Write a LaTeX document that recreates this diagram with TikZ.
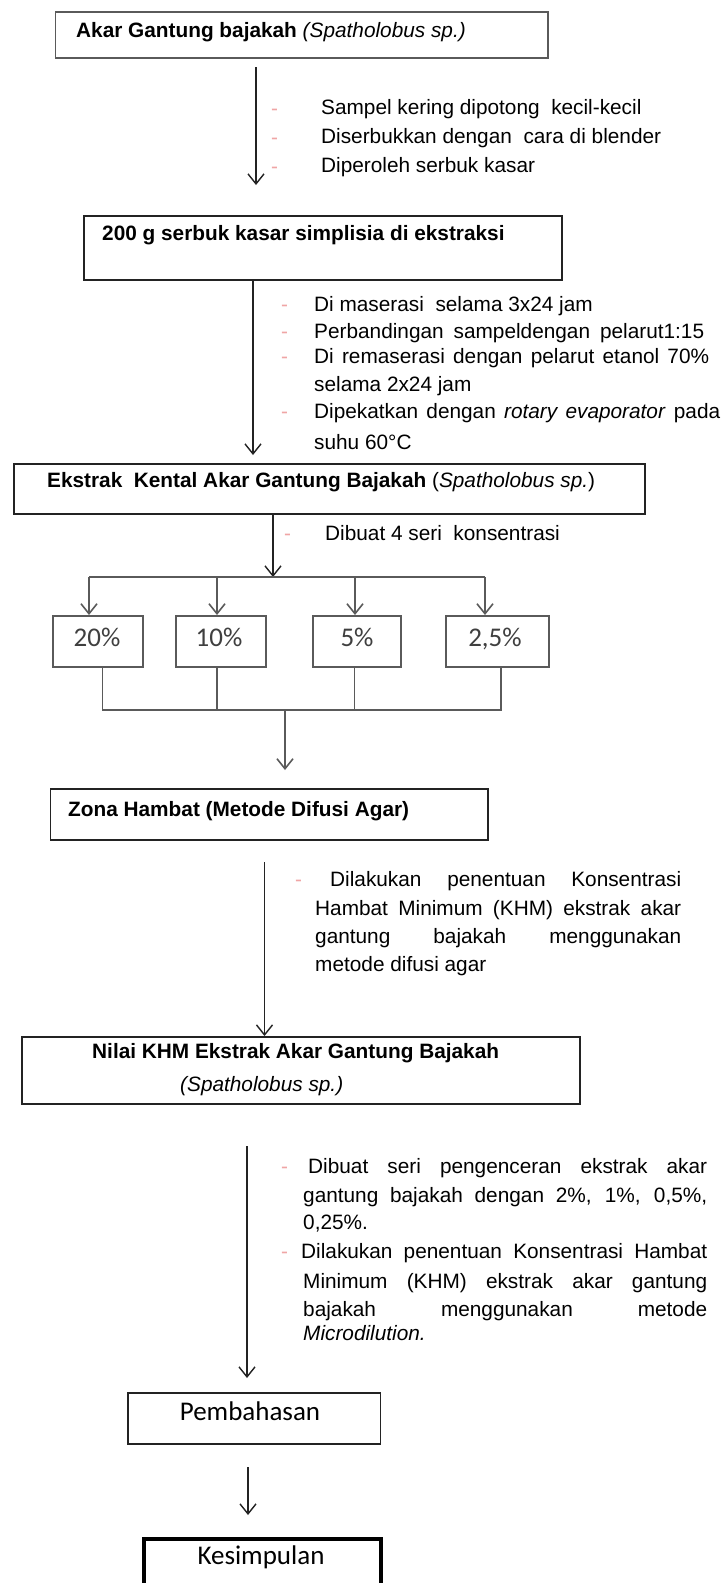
\documentclass[tikz,border=0pt]{standalone}
\usepackage{fontspec}
\setmainfont{Liberation Sans}
\newfontfamily\calib{Carlito}
\usetikzlibrary{arrows.meta}
\definecolor{dashc}{RGB}{240,165,165}
\definecolor{linec}{RGB}{35,35,35}
\definecolor{grayl}{RGB}{90,90,90}
\begin{document}
\begin{tikzpicture}[x=1pt,y=-1pt,
  box/.style={draw=linec, line width=1.8pt, rectangle, inner sep=0pt, anchor=north west},
  arr/.style={draw=linec, line width=1.4pt, -{Straight Barb[length=10pt,width=16pt,line width=1.4pt]}},
  arrg/.style={draw=grayl, line width=1.6pt, -{Straight Barb[length=10pt,width=16pt,line width=1.6pt]}},
  ln/.style={draw=grayl, line width=1.6pt},
  txt/.style={inner sep=0pt, text height=0.72em, text depth=0pt, anchor=west, font=\fontsize{20.8}{25}\selectfont},
  dsh/.style={txt, text=dashc},
  cal/.style={inner sep=0pt, text height=0.64em, text depth=0pt, font=\fontsize{27}{32}\selectfont\calib}
]
\path[use as bounding box] (0,0) rectangle (724,1583);
\clip (0,0) rectangle (724,1583);
\fill[white] (0,0) rectangle (724,1583);

% Box 1
\node[box, draw=grayl, minimum width=492.5pt, minimum height=46pt] (b1) at (54.5,11) {};
\node[txt] (t1) at (76,34) {\textbf{Akar Gantung bajakah} \textit{(Spatholobus sp.)}};
\coordinate (a1s) at (256,67);
\coordinate (a1e) at (256,185);
\draw[arr] (a1s) -- (a1e);
\node[dsh] (d11) at (271,112) {-};
\node[dsh] (d12) at (271,141) {-};
\node[dsh] (d13) at (271,170) {-};
\node[txt] (l11) at (321,111) {Sampel kering dipotong\ \ kecil-kecil};
\node[txt] (l12) at (321,140) {Diserbukkan dengan\ \ cara di blender};
\node[txt] (l13) at (321,169) {Diperoleh serbuk kasar};

% Box 2
\node[box, minimum width=478pt, minimum height=64pt] (b2) at (83,215) {};
\node[txt] (t2) at (102,237) {\textbf{200 g serbuk kasar simplisia di ekstraksi}};
\coordinate (a2e) at (253,455);
\draw[arr] (b2.south -| a2e) -- (a2e);
\node[dsh] (d21) at (281,308) {-};
\node[dsh] (d22) at (281,335) {-};
\node[dsh] (d23) at (281,360) {-};
\node[dsh] (d25) at (281,415) {-};
\node[txt] (l21) at (314,308) {Di maserasi\ \ selama 3x24 jam};
\node[txt] (l22) at (314,335) {\makebox[390pt][s]{Perbandingan sampeldengan pelarut1:15}};
\node[txt] (l23) at (314,360) {\makebox[395pt][s]{Di remaserasi dengan pelarut etanol 70\%}};
\node[txt] (l24) at (314,388) {selama 2x24 jam};
\node[txt] (l25) at (314,415) {\makebox[406pt][s]{Dipekatkan dengan \textit{rotary evaporator} pada}};
\node[txt] (l26) at (314,446) {suhu 60°C};

% Box 3
\node[box, minimum width=631pt, minimum height=50pt] (b3) at (13,463) {};
\node[txt] (t3) at (47,484) {\textbf{Ekstrak\ \ Kental Akar Gantung Bajakah} (\textit{Spatholobus sp.})};
\coordinate (j0) at (273,577);
\draw[arr] (b3.south -| j0) -- (j0);
\node[dsh] (d31) at (284,537) {-};
\node[txt] (l31) at (325,537) {Dibuat 4 seri\ \ konsentrasi};

% concentration boxes
\node[box, draw=grayl, minimum width=90pt, minimum height=51pt] (p1) at (52,615) {};
\node[box, draw=grayl, minimum width=90pt, minimum height=51pt] (p2) at (175,615) {};
\node[box, draw=grayl, minimum width=88pt, minimum height=51pt] (p3) at (312,615) {};
\node[box, draw=grayl, minimum width=103pt, minimum height=51pt] (p4) at (445,615) {};
\node[cal, text=grayl!70!black] at (97,643) {20\%};
\node[cal, text=grayl!70!black] at (219,643) {10\%};
\node[cal, text=grayl!70!black] at (357,643) {5\%};
\node[cal, text=grayl!70!black] at (495,643) {2,5\%};
\coordinate (h1) at (89,577);
\coordinate (h2) at (217,577);
\coordinate (h3) at (355,577);
\coordinate (h4) at (485,577);
\draw[ln] (h1) -- (h4);
\draw[arrg] (h1) -- (p1.north -| h1);
\draw[arrg] (h2) -- (p2.north -| h2);
\draw[arrg] (h3) -- (p3.north -| h3);
\draw[arrg] (h4) -- (p4.north -| h4);
\coordinate (m1) at (102.5,710);
\coordinate (m2) at (217,710);
\coordinate (m3) at (354.5,710);
\coordinate (m4) at (501,710);
\draw[ln] (p1.south -| m1) -- (m1) -- (m4) -- (p4.south -| m4);
\draw[ln] (p2.south -| m2) -- (m2);
\draw[ln] (p3.south -| m3) -- (m3);
\coordinate (mz) at (285,710);
\coordinate (az) at (285,770);
\draw[arrg] (mz) -- (az);

% Zona Hambat
\node[box, minimum width=437.5pt, minimum height=51pt] (b4) at (49.5,788) {};
\node[txt] (t4) at (68,813) {\textbf{Zona Hambat (Metode Difusi Agar)}};
\coordinate (a4s) at (264.5,862);
\draw[arr] (a4s) -- (a4s |- 0,1036);
\node[dsh] (d41) at (295,883) {-};
\node[txt] (l41) at (330,883) {\makebox[351pt][s]{Dilakukan penentuan Konsentrasi}};
\node[txt] (l42) at (315,912) {\makebox[366pt][s]{Hambat Minimum (KHM) ekstrak akar}};
\node[txt] (l43) at (315,940) {\makebox[366pt][s]{gantung bajakah menggunakan}};
\node[txt] (l44) at (315,968) {metode difusi agar};

% Nilai KHM
\node[box, minimum width=558pt, minimum height=67pt] (b5) at (21,1036) {};
\node[txt] (t5a) at (92,1055) {\textbf{Nilai KHM Ekstrak Akar Gantung Bajakah}};
\node[txt] (t5b) at (180,1088) {\textit{(Spatholobus sp.)}};
\coordinate (a5s) at (247,1146);
\coordinate (a5e) at (247,1378);
\draw[arr] (a5s) -- (a5e);
\node[dsh] (d51) at (281,1170) {-};
\node[dsh] (d52) at (281,1255) {-};
\node[txt] (l51) at (308,1170) {\makebox[399pt][s]{Dibuat seri pengenceran ekstrak akar}};
\node[txt] (l52) at (303,1199) {\makebox[404pt][s]{gantung bajakah dengan 2\%, 1\%, 0,5\%,}};
\node[txt] (l53) at (303,1226) {0,25\%.};
\node[txt] (l54) at (301,1255) {\makebox[406pt][s]{Dilakukan penentuan Konsentrasi Hambat}};
\node[txt] (l55) at (303,1285) {\makebox[404pt][s]{Minimum (KHM) ekstrak akar gantung}};
\node[txt] (l56) at (303,1313) {\makebox[404pt][s]{bajakah menggunakan metode}};
\node[txt] (l57) at (303,1337) {\textit{Microdilution.}};

% Pembahasan
\node[box, minimum width=252.5pt, minimum height=51pt] (b6) at (127,1392) {};
\node[cal] (t6) at (250,1417) {Pembahasan};
\coordinate (a6s) at (248,1467);
\coordinate (a6e) at (248,1515);
\draw[arr] (a6s) -- (a6e);

% Kesimpulan
\node[box, draw=black, line width=4pt, minimum width=236.5pt, minimum height=70pt] (b7) at (142,1537) {};
\node[cal] (t7) at (261,1561) {Kesimpulan};
\end{tikzpicture}
\end{document}
